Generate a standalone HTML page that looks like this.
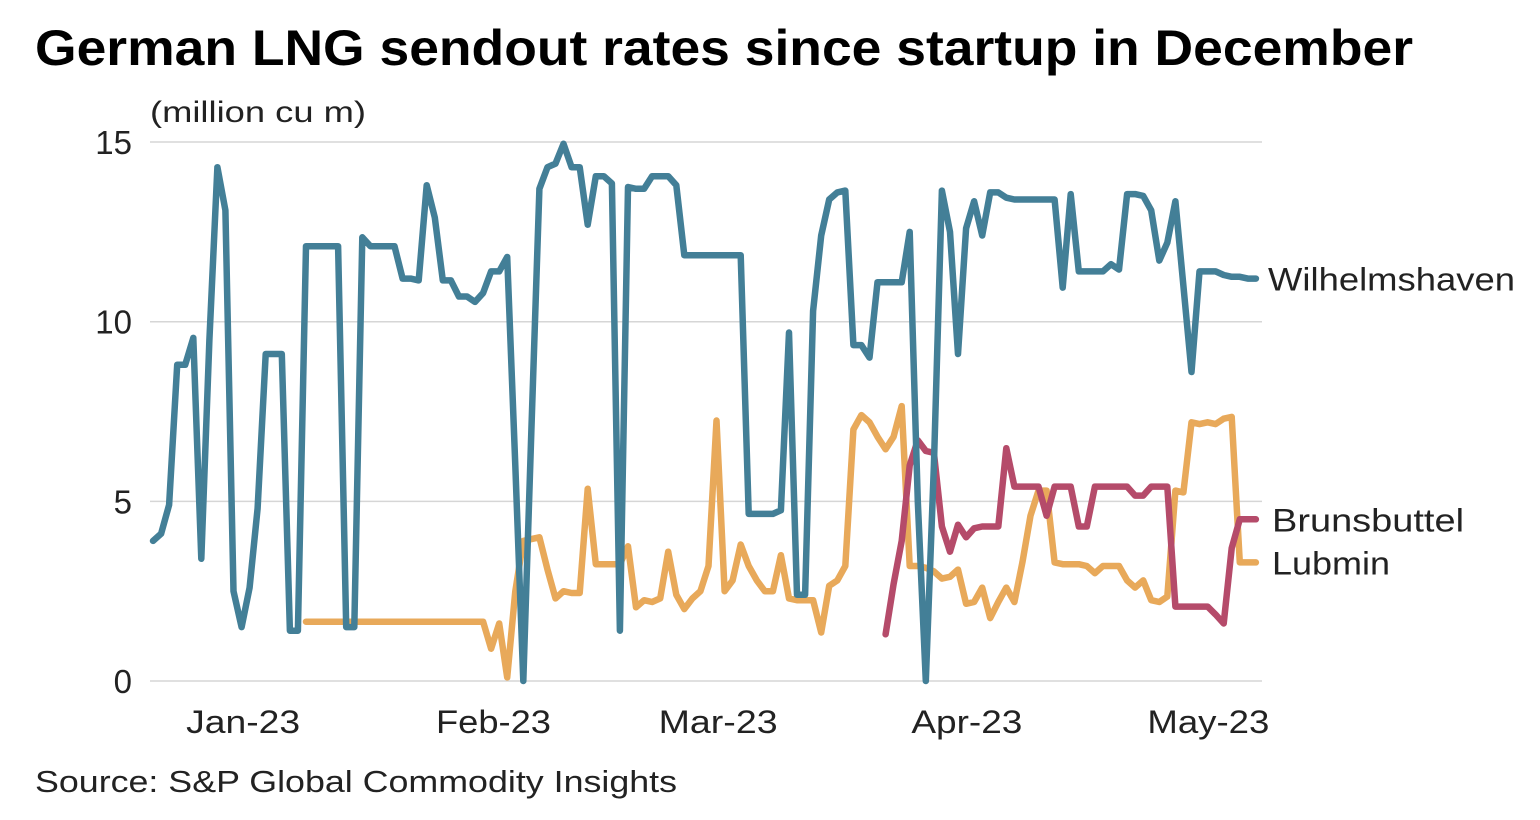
<!DOCTYPE html>
<html><head><meta charset="utf-8"><style>
html,body{margin:0;padding:0;background:#fff;}
svg{display:block;font-family:"Liberation Sans",sans-serif;}
</style></head><body>
<svg id="chart" width="1540" height="820" viewBox="0 0 1540 820">
<text x="35" y="65" font-size="50" font-weight="bold" fill="#000" textLength="1378" lengthAdjust="spacingAndGlyphs">German LNG sendout rates since startup in December</text>
<text x="150" y="122" font-size="30" fill="#222" textLength="216" lengthAdjust="spacingAndGlyphs">(million cu m)</text>
<text x="35" y="792" font-size="31" fill="#222" textLength="642" lengthAdjust="spacingAndGlyphs">Source: S&amp;P Global Commodity Insights</text>
<g id="grid"></g><g id="xaxis"></g><g id="series"></g><g id="labels"></g>
</svg>
<script>
const yTicks=[0,5,10,15];
const xTickLabels=["Jan-23","Feb-23","Mar-23","Apr-23","May-23"];
const xTickDays=[11.2,42.3,70.2,101.1,131.1];
const wilhelmshaven=[3.9,4.1,4.9,8.8,8.8,9.55,3.4,9.5,14.3,13.1,2.5,1.5,2.6,4.8,9.1,9.1,9.1,1.4,1.4,12.1,12.1,12.1,12.1,12.1,1.5,1.5,12.35,12.1,12.1,12.1,12.1,11.2,11.2,11.15,13.8,12.9,11.15,11.15,10.7,10.7,10.55,10.8,11.4,11.4,11.8,6,0,7,13.7,14.3,14.4,14.95,14.3,14.3,12.7,14.05,14.05,13.85,1.4,13.75,13.7,13.7,14.05,14.05,14.05,13.8,11.85,11.85,11.85,11.85,11.85,11.85,11.85,11.85,4.65,4.65,4.65,4.65,4.75,9.7,2.4,2.4,10.3,12.4,13.4,13.6,13.65,9.35,9.35,9.0,11.1,11.1,11.1,11.1,12.5,5,0,6,13.65,12.5,9.1,12.6,13.35,12.4,13.6,13.6,13.45,13.4,13.4,13.4,13.4,13.4,13.4,10.95,13.55,11.4,11.4,11.4,11.4,11.6,11.45,13.55,13.55,13.5,13.1,11.7,12.2,13.35,11,8.6,11.4,11.4,11.4,11.3,11.25,11.25,11.2,11.2];
const lubminStart=19;
const lubmin=[1.65,1.65,1.65,1.65,1.65,1.65,1.65,1.65,1.65,1.65,1.65,1.65,1.65,1.65,1.65,1.65,1.65,1.65,1.65,1.65,1.65,1.65,1.65,0.9,1.6,0.1,2.5,3.9,3.95,4.0,3.1,2.3,2.5,2.45,2.45,5.35,3.25,3.25,3.25,3.25,3.75,2.05,2.25,2.2,2.3,3.6,2.4,2.0,2.3,2.5,3.2,7.25,2.5,2.8,3.8,3.2,2.8,2.5,2.5,3.5,2.3,2.25,2.25,2.25,1.35,2.65,2.8,3.2,7.0,7.4,7.2,6.8,6.45,6.8,7.65,3.2,3.2,3.15,3.05,2.85,2.9,3.1,2.15,2.2,2.6,1.75,2.2,2.6,2.2,3.3,4.6,5.3,5.3,3.3,3.25,3.25,3.25,3.2,3.0,3.2,3.2,3.2,2.8,2.6,2.8,2.25,2.2,2.35,5.3,5.25,7.2,7.15,7.2,7.15,7.3,7.35,3.3,3.3,3.3];
const brunsStart=91;
const brunsbuttel=[1.3,2.7,3.9,6.0,6.7,6.4,6.35,4.3,3.6,4.35,4.0,4.25,4.3,4.3,4.3,6.48,5.41,5.41,5.41,5.41,4.6,5.41,5.41,5.41,4.3,4.3,5.41,5.41,5.41,5.41,5.41,5.16,5.16,5.41,5.41,5.41,2.07,2.07,2.07,2.07,2.07,1.85,1.6,3.7,4.5,4.5,4.5];
const seriesNames=["Wilhelmshaven","Brunsbuttel","Lubmin"];

const NS="http://www.w3.org/2000/svg";
const X0=153,DX=8.05,Y0=681,DY=35.93;
const xS=d=>X0+d*DX, yS=v=>Y0-v*DY;
const tickW=[114,115,119,111,122];
const labelW=[247,192,118];
function mk(tag,parent,attrs){const e=document.createElementNS(NS,tag);for(const k in attrs)e.setAttribute(k,attrs[k]);document.getElementById(parent).appendChild(e);return e;}
yTicks.forEach(t=>{
  const l=mk('line','grid',{x1:150,x2:1262,y1:yS(t),y2:yS(t),stroke:'#d6d6d6','stroke-width':1.5});
  
  
  const tx=mk('text','grid',{x:132,y:yS(t)+12,'text-anchor':'end','font-size':33,fill:'#222'});
  tx.textContent=t;
  
  
});
xTickLabels.forEach((s,i)=>{
  const tx=mk('text','xaxis',{x:xS(xTickDays[i]),y:733,'text-anchor':'middle','font-size':32,fill:'#222',textLength:tickW[i],lengthAdjust:'spacingAndGlyphs'});
  tx.textContent=s;
  
  
});
function draw(vals,start,color,name){
  const pts=vals.map((v,i)=>xS(start+i).toFixed(1)+','+yS(v).toFixed(1)).join(' ');
  const p=mk('polyline','series',{points:pts,fill:'none',stroke:color,'stroke-width':6.5,'stroke-linejoin':'round','stroke-linecap':'round'});
  
  
}
draw(lubmin,lubminStart,'#e8a95a','lubmin');
draw(brunsbuttel,brunsStart,'#b54b6a','brunsbuttel');
draw(wilhelmshaven,0,'#437f97','wilhelmshaven');
const lblY=[yS(wilhelmshaven[wilhelmshaven.length-1]),yS(brunsbuttel[brunsbuttel.length-1]),yS(lubmin[lubmin.length-1])];
seriesNames.forEach((n,i)=>{
  const tx=mk('text','labels',{x:i==0?1268:1272,y:lblY[i]+12,'font-size':32,fill:'#222',textLength:labelW[i],lengthAdjust:'spacingAndGlyphs'});
  tx.textContent=n;
  
  
});
</script>
</body></html>
